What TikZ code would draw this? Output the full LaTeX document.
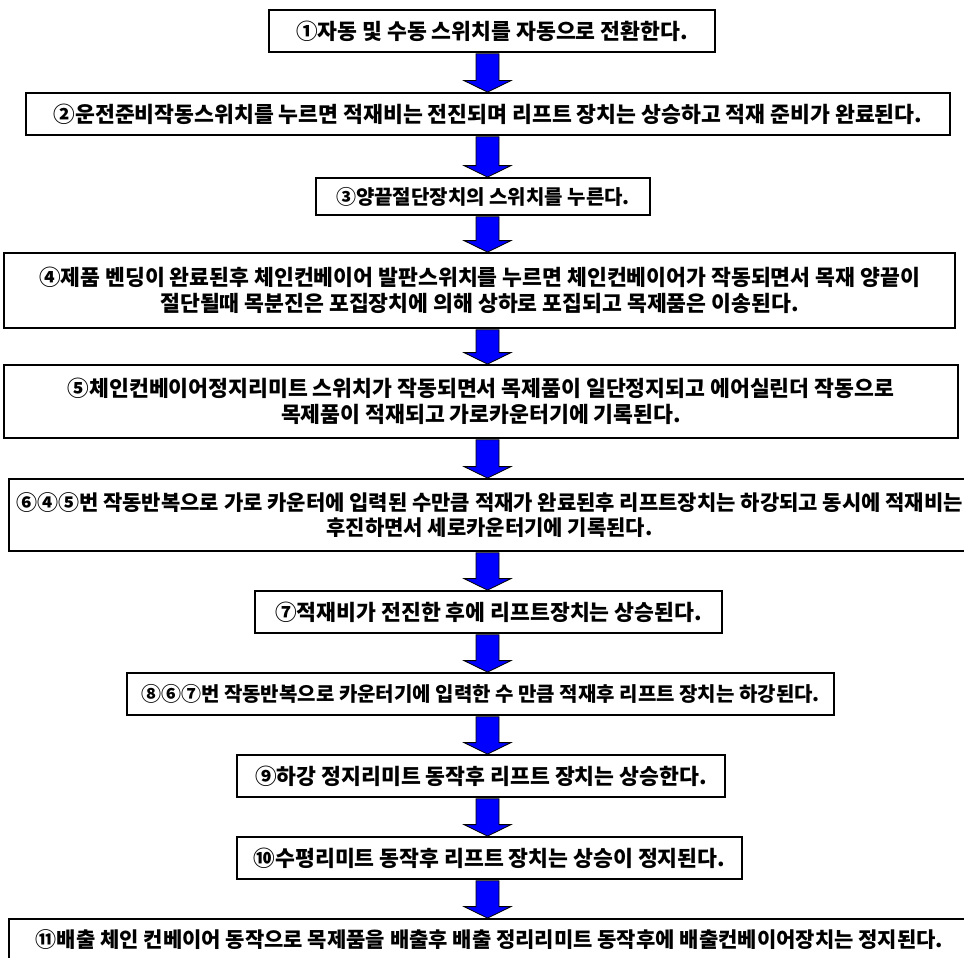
\documentclass[tikz,border=0pt]{standalone}
\usepackage{fontspec}
\setmainfont{Noto Sans CJK KR}
\usetikzlibrary{calc}
\tikzset{
  box/.style={draw=black, line width=1.8pt, fill=white, inner sep=0pt, align=center,
    font=\bfseries\fontsize{21.6}{26}\selectfont},
  widebox/.style={box, font=\bfseries\fontsize{21}{25}\selectfont},
  tightbox/.style={box, font=\bfseries\fontsize{20}{24}\selectfont},
  flow/.style={fill=blue, draw=black, line width=0.8pt, line join=miter},
}
\newcommand{\flowarrow}[2]{%
  \path[flow] ($(ax |- #1.south)+(-11.5,-0.9)$) -- ($(ax |- #1.south)+(11.5,-0.9)$)
    -- ($(ax |- #2.north)+(11.5,11.5)$) -- ($(ax |- #2.north)+(23.5,11.5)$)
    -- (ax |- #2.north) -- ($(ax |- #2.north)+(-23.5,11.5)$)
    -- ($(ax |- #2.north)+(-11.5,11.5)$) -- cycle;}
\begin{document}
\begin{tikzpicture}[x=1pt, y=1pt]
\useasboundingbox (0,0) rectangle (964,-958);
\fill[white] (0,0) rectangle (964,-958);
\coordinate (ax) at (487.5,0);
\node[box, minimum width=446, minimum height=42] (b1) at (492,-31) {①자동 및 수동 스위치를 자동으로 전환한다.};
\node[box, minimum width=924, minimum height=42] (b2) at (488,-114) {②운전준비작동스위치를 누르면 적재비는 전진되며 리프트 장치는 상승하고 적재 준비가 완료된다.};
\node[tightbox, minimum width=334, minimum height=37] (b3) at (483,-196.5) {③양끝절단장치의 스위치를 누른다.};
\node[box, minimum width=951, minimum height=75] (b4) at (479.5,-290.5) {④제품 벤딩이 완료된후 체인컨베이어 발판스위치를 누르면 체인컨베이어가 작동되면서 목재 양끝이\\절단될때 목분진은 포집장치에 의해 상하로 포집되고 목제품은 이송된다.};
\node[box, minimum width=954, minimum height=73] (b5) at (481,-401.5) {⑤체인컨베이어정지리미트 스위치가 작동되면서 목제품이 일단정지되고 에어실린더 작동으로\\목제품이 적재되고 가로카운터기에 기록된다.};
\node[widebox, minimum width=961, minimum height=72] (b6) at (489.5,-515) {⑥④⑤번 작동반복으로 가로 카운터에 입력된 수만큼 적재가 완료된후 리프트장치는 하강되고 동시에 적재비는\\후진하면서 세로카운터기에 기록된다.};
\node[box, minimum width=467, minimum height=42] (b7) at (488.5,-612) {⑦적재비가 전진한 후에 리프트장치는 상승된다.};
\node[tightbox, minimum width=707, minimum height=42] (b8) at (480.5,-694) {⑧⑥⑦번 작동반복으로 카운터기에 입력한 수 만큼 적재후 리프트 장치는 하강된다.};
\node[box, minimum width=488, minimum height=42] (b9) at (481,-776) {⑨하강 정지리미트 동작후 리프트 장치는 상승한다.};
\node[box, minimum width=505, minimum height=42] (b10) at (489.5,-858) {⑩수평리미트 동작후 리프트 장치는 상승이 정지된다.};
\node[widebox, minimum width=961, minimum height=42] (b11) at (489.5,-940) {⑪배출 체인 컨베이어 동작으로 목제품을 배출후 배출 정리리미트 동작후에 배출컨베이어장치는 정지된다.};
\flowarrow{b1}{b2}
\flowarrow{b2}{b3}
\flowarrow{b3}{b4}
\flowarrow{b4}{b5}
\flowarrow{b5}{b6}
\flowarrow{b6}{b7}
\flowarrow{b7}{b8}
\flowarrow{b8}{b9}
\flowarrow{b9}{b10}
\flowarrow{b10}{b11}
\end{tikzpicture}
\end{document}
